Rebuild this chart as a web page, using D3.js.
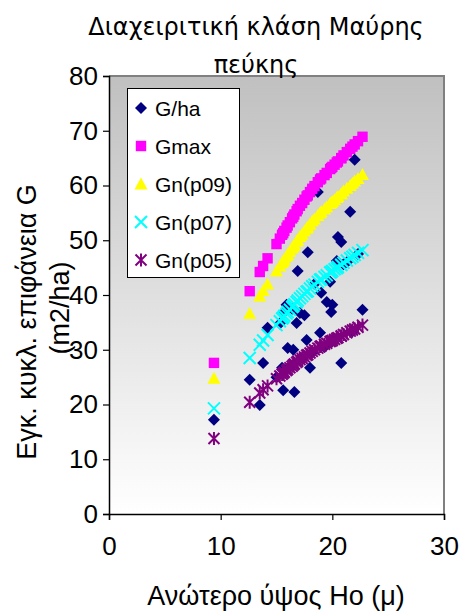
<!DOCTYPE html>
<html><head><meta charset="utf-8">
<script src="https://cdn.jsdelivr.net/npm/d3@7"></script>
<style>body{margin:0;background:#fff}svg{display:block}</style>
</head><body>
<script>
// Ανώτερο ύψος Ho (μ)
const ho = [9.4,12.6,13.5,13.8,14.2,15.0,15.3,15.5,15.6,15.7,15.9,16.0,16.2,16.4,16.5,16.6,16.8,16.9,17.1,17.3,17.5,17.7,17.8,18.0,18.2,18.4,18.7,18.9,19.0,19.3,19.5,19.8,19.9,20.0,20.2,20.4,20.5,20.8,20.8,21.0,21.3,21.6,21.8,22.0,22.3,22.7];
const gHa = [17.2,24.5,19.9,27.6,34.0,25.0,34.8,26.7,22.6,36.9,38.2,30.3,27.0,37.5,30.0,22.3,34.9,44.4,36.7,28.5,36.3,31.8,47.8,26.7,29.5,42.0,58.8,33.1,40.4,30.5,38.7,42.4,36.9,38.2,32.0,46.2,50.6,49.7,27.6,45.6,46.0,55.2,33.4,64.7,47.5,37.3];
const gMax = [27.6,40.7,44.2,45.3,46.7,49.3,50.3,51.0,51.3,51.7,52.3,52.7,53.3,54.0,54.3,54.7,55.3,55.7,56.3,56.8,57.4,58.0,58.2,58.8,59.4,59.9,60.6,61.1,61.3,61.9,62.3,63.0,63.2,63.4,63.8,64.2,64.4,65.0,65.0,65.5,66.1,66.7,67.1,67.5,68.1,68.9];
const gnP09 = [24.8,36.6,39.8,40.8,42.0,44.4,45.3,45.9,46.2,46.5,47.1,47.4,48.0,48.6,48.9,49.2,49.8,50.1,50.7,51.1,51.7,52.2,52.4,52.9,53.5,53.9,54.5,55.0,55.2,55.7,56.1,56.7,56.9,57.1,57.4,57.8,58.0,58.5,58.5,59.0,59.5,60.0,60.4,60.8,61.3,62.0];
const gnP07 = [19.3,28.5,30.9,31.7,32.7,34.5,35.2,35.7,35.9,36.2,36.6,36.9,37.3,37.8,38.0,38.3,38.7,39.0,39.4,39.8,40.2,40.6,40.7,41.2,41.6,41.9,42.4,42.8,42.9,43.3,43.6,44.1,44.2,44.4,44.7,44.9,45.1,45.5,45.5,45.9,46.3,46.7,47.0,47.3,47.7,48.2];
const gnP05 = [13.8,20.4,22.1,22.7,23.4,24.7,25.2,25.5,25.7,25.9,26.2,26.4,26.7,27.0,27.2,27.4,27.7,27.9,28.2,28.4,28.7,29.0,29.1,29.4,29.7,30.0,30.3,30.6,30.7,31.0,31.2,31.5,31.6,31.7,31.9,32.1,32.2,32.5,32.5,32.8,33.1,33.4,33.6,33.8,34.1,34.5];
const seriesNames = ["G/ha","Gmax","Gn(p09)","Gn(p07)","Gn(p05)"];
const xTicks = [0,10,20,30];
const yTicks = [0,10,20,30,40,50,60,70,80];

const W = 463, H = 615;
const L = 109, R = 444, T = 76, B = 514;
const svg = d3.select("body").append("svg").attr("width",W).attr("height",H);
const x = d3.scaleLinear().domain([0,30]).range([L,R]);
const y = d3.scaleLinear().domain([0,80]).range([B,T]);

const defs = svg.append("defs");
const grad = defs.append("linearGradient").attr("id","bg").attr("x1",0).attr("y1",0).attr("x2",0).attr("y2",1);
grad.append("stop").attr("offset","0%").attr("stop-color","#c0c0c0");
grad.append("stop").attr("offset","100%").attr("stop-color","#ffffff");

svg.append("rect").attr("x",L).attr("y",T).attr("width",R-L).attr("height",B-T).attr("fill","url(#bg)");
svg.append("path").attr("d",`M${L},${T}H${R}V${B}`).attr("fill","none").attr("stroke","#808080").attr("stroke-width",2);

const fontA = "'Liberation Sans', Arial, sans-serif";
const yAx = svg.append("g").attr("transform",`translate(${L},0)`).call(d3.axisLeft(y).tickValues(yTicks).tickSize(6).tickPadding(5).tickFormat(d3.format("d")));
const xAx = svg.append("g").attr("transform",`translate(0,${B})`).call(d3.axisBottom(x).tickValues(xTicks).tickSize(6).tickPadding(17).tickFormat(d3.format("d")));
[yAx,xAx].forEach(g=>{
  g.select(".domain").attr("stroke","#000").attr("stroke-width",1.5);
  g.selectAll(".tick line").attr("stroke","#000").attr("stroke-width",1.2);
  g.selectAll("text").attr("font-family",fontA).attr("font-size",26).attr("fill","#000");
});

// marker shapes
function shape(g, kind, cx, cy){
  if(kind===0){
    g.append("path").attr("d",`M${cx},${cy-6}L${cx+6},${cy}L${cx},${cy+6}L${cx-6},${cy}Z`).attr("fill","#000080");
  } else if(kind===1){
    g.append("rect").attr("x",cx-5.2).attr("y",cy-5.2).attr("width",10.4).attr("height",10.4).attr("fill","#ff00ff");
  } else if(kind===2){
    g.append("path").attr("d",`M${cx},${cy-6.5}L${cx+6.5},${cy+5.5}L${cx-6.5},${cy+5.5}Z`).attr("fill","#ffff00");
  } else if(kind===3){
    g.append("path").attr("d",`M${cx-6},${cy-6}L${cx+6},${cy+6}M${cx+6},${cy-6}L${cx-6},${cy+6}`).attr("stroke","#00ffff").attr("stroke-width",2).attr("fill","none");
  } else {
    g.append("path").attr("d",`M${cx-5.5},${cy-5.5}L${cx+5.5},${cy+5.5}M${cx+5.5},${cy-5.5}L${cx-5.5},${cy+5.5}M${cx},${cy-6.5}L${cx},${cy+6.5}`).attr("stroke","#800080").attr("stroke-width",2).attr("fill","none");
  }
}
const allSeries = [gHa,gMax,gnP09,gnP07,gnP05];
allSeries.forEach((vals,k)=>{
  const g = svg.append("g").attr("class","series-"+k);
  vals.forEach((v,i)=>shape(g,k,x(ho[i]),y(v)));
});

// legend
const lg = svg.append("g");
lg.append("rect").attr("x",127.5).attr("y",88.5).attr("width",112).attr("height",189).attr("fill","#fff").attr("stroke","#000").attr("stroke-width",1);
const rowY = [108,146,184,222,260];
seriesNames.forEach((n,k)=>{
  shape(lg,k,141,rowY[k]);
  lg.append("text").attr("x",155).attr("y",rowY[k]+7.5).attr("font-family",fontA).attr("font-size",21).text(n);
});

// title
const fontT = "'DejaVu Sans', Verdana, sans-serif";
svg.append("text").attr("x",256).attr("y",35).attr("text-anchor","middle").attr("font-family",fontT).attr("font-size",24).text("Διαχειριτική κλάση Μαύρης");
svg.append("text").attr("x",256).attr("y",73).attr("text-anchor","middle").attr("font-family",fontT).attr("font-size",24).text("πεύκης");

// axis titles
svg.append("text").attr("x",276).attr("y",605).attr("text-anchor","middle").attr("font-family",fontA).attr("font-size",27).text("Ανώτερο ύψος Ho (μ)");
svg.append("text").attr("transform","translate(36,322) rotate(-90)").attr("text-anchor","middle").attr("font-family",fontA).attr("font-size",27).text("Εγκ. κυκλ. επιφάνεια G");
svg.append("text").attr("transform","translate(69,308) rotate(-90)").attr("text-anchor","middle").attr("font-family",fontA).attr("font-size",27).text("(m2/ha)");
</script>
</body></html>
